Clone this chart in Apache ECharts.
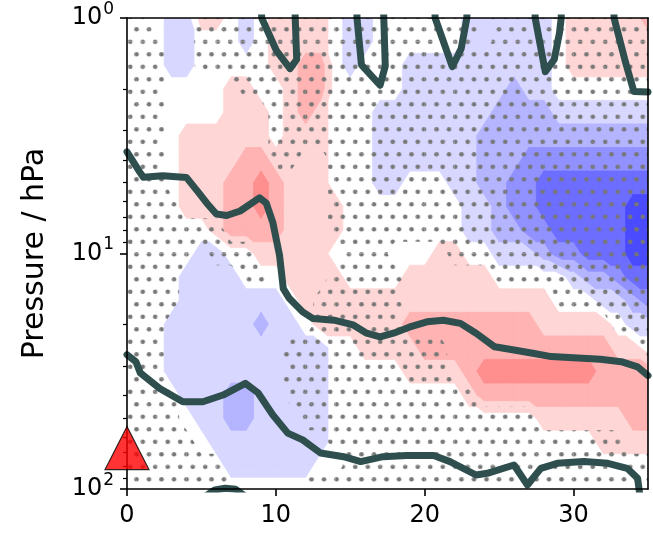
<!DOCTYPE html>
<html>
<head>
<meta charset="utf-8">
<script src="https://cdn.jsdelivr.net/npm/echarts@6/dist/echarts.min.js"></script>
<style>
  html, body { margin: 0; padding: 0; background: #ffffff; }
  #chart { width: 653px; height: 546px; }
</style>
</head>
<body>
<div id="chart"></div>
<script>
// Grid of the anomaly field: columns are days, rows are pressure levels (hPa)
const days = [0, 1, 2, 3, 4, 5, 6, 7, 8, 9, 10, 11, 12, 13, 14, 15, 16, 17,
              18, 19, 20, 21, 22, 23, 24, 25, 26, 27, 28, 29, 30, 31, 32, 33, 34, 35];
const pressureLevels = [1, 1.259, 1.585, 1.995, 2.512, 3.162, 3.981, 5.012, 6.310, 7.943,
                        10, 12.59, 15.85, 19.95, 25.12, 31.62, 39.81, 50.12, 63.10, 79.43, 100];

// Anomaly class per grid node, one string per pressure level (day 0 .. 35).
// '.' = 0, '1'..'3' = positive classes, 'a'..'e' = negative classes 1..5
const anomalyRows = [
  "...aa11.a.11" + "11.aa......a" + "aaaaa.111112",
  "...aa...a.11" + "11.aa......a" + "aaaaa.111111",
  "...aa.....11" + "22.a...aaaaa" + "aaaaa.111111",
  ".......11..1" + "22.....aaaaa" + "aabaa.......",
  ".......111.1" + "21...aaaaaaa" + "abbbbaaaaaaa",
  "....111111.1" + "11...aaaaaaa" + "bbbbbbbbbbbb",
  "....11112211" + "11...aaaaaaa" + "bbbccccccccc",
  "....11122321" + "11...aa...aa" + "bbccdddddddd",
  "....11122321" + "111........a" + "abccddddddee",
  "......122221" + "111........a" + "abbccdddddee",
  ".....aa..111" + "11.......11." + ".aaabccdddee",
  "....aaaa...1" + "111....11111" + "1.....abbcdd",
  "....aaaaaaa." + "111111111111" + "11111...aabc",
  "...aaaaaabaa" + ".11111122222" + "222211111.aa",
  "...aaaaaaaaa" + "aa..11112222" + "22222222211.",
  "...aaaaaaaaa" + "aa.....11112" + "333333332222",
  "....aaabbaaa" + "aa.........1" + "222222222222",
  ".....aabbaaa" + "aa.........." + "....11111122",
  "......aaaaaa" + "aa.........." + "........1111",
  ".......aaaaa" + "a..........." + "............",
  "............" + "............" + "............"
];

// Significance per grid node ('#' = significant, '-' = not)
const significanceRows = [
  "##---#######" + "############" + "-###########",
  "###--#######" + "############" + "-###########",
  "###--#######" + "############" + "############",
  "###-----####" + "############" + "############",
  "###-------##" + "############" + "############",
  "###-------##" + "############" + "############",
  "###-------##" + "--##########" + "############",
  "###---------" + "--##########" + "############",
  "####--------" + "--##########" + "############",
  "#######-----" + "--##########" + "############",
  "#####-###---" + "---###----##" + "############",
  "####----##--" + "--#####-----" + "-###########",
  "####--------" + "-######-----" + "-----#######",
  "###---------" + "-######-----" + "---------###",
  "###--------#" + "##########--" + "-----------#",
  "###--------#" + "##########--" + "------------",
  "####-------#" + "############" + "------------",
  "####--------" + "############" + "####--------",
  "#####-------" + "--##########" + "##########--",
  "#######-----" + "---#########" + "############",
  "########----" + "############" + "############"
];

const classValue = { '.': 0, '1': 1, '2': 2, '3': 3, 'a': -1, 'b': -2, 'c': -3, 'd': -4, 'e': -5 };
const warmColors = ['#ffd6d6', '#ffb3b3', '#ff8f8f'];
const coolColors = ['#d7d7ff', '#b4b4ff', '#9191ff', '#6d6dff', '#4a4aff'];

// Contour lines (day, hPa)
const topContour = [
  [8.95, 0.6], [9.05, 1.0], [10.05, 1.38], [10.95, 1.64], [11.4, 1.5], [11.3, 1.0], [11.25, 0.6],
  [15.4, 0.6], [15.45, 1.0], [15.75, 1.58], [17.0, 1.93], [17.35, 1.6], [17.25, 1.0], [17.2, 0.6],
  [20.6, 0.6], [20.7, 1.0], [21.85, 1.61], [22.45, 1.35], [22.83, 1.0], [22.9, 0.6],
  [27.35, 0.6], [27.42, 1.0], [27.9, 1.45], [28.1, 1.69], [28.7, 1.5], [29.05, 1.16], [29.17, 1.0], [29.2, 0.6],
  [32.65, 0.6], [32.72, 1.0], [33.5, 1.55], [34.05, 2.05], [35, 2.06]
];
const middleContour = [
  [0, 3.7], [0.85, 4.5], [1.1, 4.75], [2.4, 4.68], [4.0, 4.76], [4.8, 5.5], [5.35, 6.1],
  [6.0, 6.8], [6.7, 6.9], [7.6, 6.6], [8.9, 5.8], [9.35, 6.1], [9.8, 7.4], [10.25, 10.2],
  [10.5, 14.1], [10.9, 15.5], [11.8, 17.7], [12.5, 18.9], [13.9, 19.2], [15.2, 20.1],
  [16.1, 21.8], [17.0, 22.6], [17.9, 21.8], [19.0, 20.5], [20.15, 19.5], [21.25, 19.2],
  [22.4, 19.8], [23.45, 21.8], [24.7, 24.9], [26.0, 25.7], [27.35, 26.6], [28.5, 27.4],
  [30.0, 27.7], [31.8, 28.1], [33.2, 28.8], [34.3, 30.3], [35, 33]
];
const lowerContour = [
  [0, 26.9], [0.6, 28.8], [0.9, 32.2], [2.2, 37.4], [3.75, 42.6], [5.1, 42.6], [6.45, 39.9],
  [7.95, 35.6], [8.8, 39.0], [9.8, 48.5], [10.8, 57.9], [11.8, 61.9], [13.0, 70.3],
  [14.55, 72.9], [15.7, 76.5], [17.2, 72.9], [18.8, 72.1], [20.6, 72.1], [21.7, 76.5],
  [23.45, 87.2], [24.2, 85.8], [26.0, 79.1], [26.9, 96.1], [27.8, 81.7], [28.9, 77.8],
  [30.7, 76.5], [32.3, 77.8], [33.6, 81.7], [34.3, 90.1], [34.45, 106]
];
const bottomContour = [[5.2, 108], [5.9, 101], [6.6, 99.3], [7.3, 100.2], [8.0, 108]];
const eventMarker = [[0, 67]];

const xTickValues = [0, 10, 20, 30];
const yMajorTicks = [1, 10, 100];
const yMinorTicks = [2, 3, 4, 5, 6, 7, 8, 9, 20, 30, 40, 50, 60, 70, 80, 90];

// Build one record per grid cell: corner positions followed by corner values
function nodeClass(j, i) { return classValue[anomalyRows[j][i]]; }
function nodeSig(j, i) { return significanceRows[j][i] === '#' ? 1 : 0; }
const cells = [];
for (let j = 0; j < pressureLevels.length - 1; j++) {
  for (let i = 0; i < days.length - 1; i++) {
    cells.push([
      days[i], pressureLevels[j], days[i + 1], pressureLevels[j + 1],
      nodeClass(j, i), nodeClass(j, i + 1), nodeClass(j + 1, i), nodeClass(j + 1, i + 1),
      nodeSig(j, i), nodeSig(j, i + 1), nodeSig(j + 1, i), nodeSig(j + 1, i + 1)
    ]);
  }
}

// Clip a polygon against a level of the linearly interpolated field
function clipPoly(poly, level, keepAbove) {
  const out = [];
  for (let k = 0; k < poly.length; k++) {
    const A = poly[k], B = poly[(k + 1) % poly.length];
    const inA = keepAbove ? A.v >= level : A.v <= level;
    const inB = keepAbove ? B.v >= level : B.v <= level;
    if (inA) out.push(A);
    if (inA !== inB) {
      const t = (level - A.v) / (B.v - A.v);
      out.push({ x: A.x + t * (B.x - A.x), y: A.y + t * (B.y - A.y), v: level });
    }
  }
  return out;
}

// Split a cell in two triangles, choosing the diagonal whose ends agree best
function cellTriangles(api, offset) {
  const d0 = api.value(0), p0 = api.value(1), d1 = api.value(2), p1 = api.value(3);
  const corners = [api.coord([d0, p0]), api.coord([d1, p0]), api.coord([d0, p1]), api.coord([d1, p1])];
  const P = corners.map((c, k) => ({ x: c[0], y: c[1], v: api.value(offset + k) }));
  const diagA = Math.abs(P[0].v - P[3].v), diagB = Math.abs(P[1].v - P[2].v);
  if (diagB < diagA) return [[P[0], P[1], P[2]], [P[1], P[3], P[2]]];
  return [[P[0], P[1], P[3]], [P[0], P[3], P[2]]];
}

function toShape(poly) { return poly.map(p => [p.x, p.y]); }

// One filled layer: region where the field is beyond the given level
function bandRenderer(level, keepAbove, fill, withStroke) {
  return function (params, api) {
    const tris = cellTriangles(api, 4);
    const children = [];
    tris.forEach(tri => {
      const poly = clipPoly(tri, level, keepAbove);
      if (poly.length >= 3) {
        children.push({
          type: 'polygon',
          shape: { points: toShape(poly) },
          style: withStroke ? { fill: fill, stroke: fill, lineWidth: 0.8 } : { fill: fill }
        });
      }
    });
    return { type: 'group', children: children };
  };
}

// Stipple tile: staggered grey dots every 12.5 px
function makeDotTile() {
  const c = document.createElement('canvas');
  c.width = 25; c.height = 25;
  const g = c.getContext('2d');
  g.fillStyle = '#777777';
  [[6.25, 6.25], [18.75, 6.25], [0, 18.75], [12.5, 18.75], [25, 18.75]].forEach(p => {
    g.beginPath(); g.arc(p[0], p[1], 2.3, 0, Math.PI * 2); g.fill();
  });
  return c;
}
const dotPattern = { image: makeDotTile(), repeat: 'repeat', x: 5.25, y: 23.05 };

function renderStipple(params, api) {
  const tris = cellTriangles(api, 8);
  const children = [];
  tris.forEach(tri => {
    const poly = clipPoly(tri, 0.5, true);
    if (poly.length >= 3) {
      children.push({
        type: 'polygon',
        shape: { points: toShape(poly) },
        style: { fill: dotPattern, stroke: null }
      });
    }
  });
  return { type: 'group', children: children };
}

const black = '#000000';
const font = 'DejaVu Sans';
const lineColor = '#2f4f4f';

const fieldSeries = [];
warmColors.forEach((color, k) => fieldSeries.push({
  type: 'custom', renderItem: bandRenderer(k + 0.5, true, color, true), data: cells, clip: true,
  encode: { x: [0, 2], y: [1, 3] }, silent: true, z: 1
}));
coolColors.forEach((color, k) => fieldSeries.push({
  type: 'custom', renderItem: bandRenderer(-(k + 0.5), false, color, true), data: cells, clip: true,
  encode: { x: [0, 2], y: [1, 3] }, silent: true, z: 1
}));

const contourSeries = (data) => ({
  type: 'line',
  data: data,
  showSymbol: false,
  symbol: 'none',
  clip: true,
  lineStyle: { color: lineColor, width: 7, cap: 'round', join: 'round' },
  z: 4
});

const chart = echarts.init(document.getElementById('chart'), null, { renderer: 'canvas' });
chart.setOption({
  animation: false,
  backgroundColor: '#ffffff',
  grid: { left: 127, right: 5, top: 18, bottom: 57, containLabel: false },
  xAxis: [
    {
      type: 'value', min: 0, max: 35, z: 6,
      axisLine: { show: true, onZero: false, lineStyle: { color: black, width: 1.6 } },
      axisTick: { show: true, length: 7, customValues: xTickValues, lineStyle: { color: black, width: 1.6 } },
      axisLabel: { customValues: xTickValues, fontSize: 24, color: black, fontFamily: font, margin: 15 },
      splitLine: { show: false }
    },
    {
      type: 'value', min: 0, max: 35, position: 'top', z: 6,
      axisLine: { show: true, onZero: false, lineStyle: { color: black, width: 1.6 } },
      axisTick: { show: false }, axisLabel: { show: false }, splitLine: { show: false }
    }
  ],
  yAxis: [
    {
      type: 'log', logBase: 10, min: 1, max: 100, inverse: true, position: 'left', z: 6,
      name: 'Pressure / hPa', nameLocation: 'middle', nameGap: 77,
      nameTextStyle: { fontSize: 30, color: black, fontFamily: font },
      axisLine: { show: true, onZero: false, lineStyle: { color: black, width: 1.6 } },
      axisTick: { show: true, length: 7, customValues: yMajorTicks, lineStyle: { color: black, width: 1.6 } },
      axisLabel: {
        customValues: yMajorTicks, margin: 13, color: black, fontFamily: font,
        formatter: v => '{b|10}{s|' + Math.round(Math.log10(v)) + '}',
        rich: {
          b: { fontSize: 24, lineHeight: 24, verticalAlign: 'bottom', fontFamily: font, color: black },
          s: { fontSize: 17, lineHeight: 17, padding: [0, 0, 12, 1], verticalAlign: 'bottom', fontFamily: font, color: black }
        }
      },
      splitLine: { show: false }
    },
    {
      type: 'log', logBase: 10, min: 1, max: 100, inverse: true, position: 'left', z: 6,
      axisLine: { show: false },
      axisTick: { show: true, length: 4, customValues: yMinorTicks, lineStyle: { color: black, width: 1.2 } },
      axisLabel: { show: false }, splitLine: { show: false }
    },
    {
      type: 'log', logBase: 10, min: 1, max: 100, inverse: true, position: 'right', z: 6,
      axisLine: { show: true, onZero: false, lineStyle: { color: black, width: 1.6 } },
      axisTick: { show: false }, axisLabel: { show: false }, splitLine: { show: false }
    }
  ],
  series: fieldSeries.concat([
    {
      type: 'custom', renderItem: renderStipple, data: cells, clip: true,
      encode: { x: [0, 2], y: [1, 3] }, silent: true, z: 2
    },
    contourSeries(topContour),
    contourSeries(middleContour),
    contourSeries(lowerContour),
    contourSeries(bottomContour),
    {
      type: 'scatter', data: eventMarker, symbol: 'triangle', symbolSize: [44, 43], clip: false,
      itemStyle: { color: '#ff0000', borderColor: black, borderWidth: 1.2 },
      z: 10
    }
  ])
});
</script>
</body>
</html>
